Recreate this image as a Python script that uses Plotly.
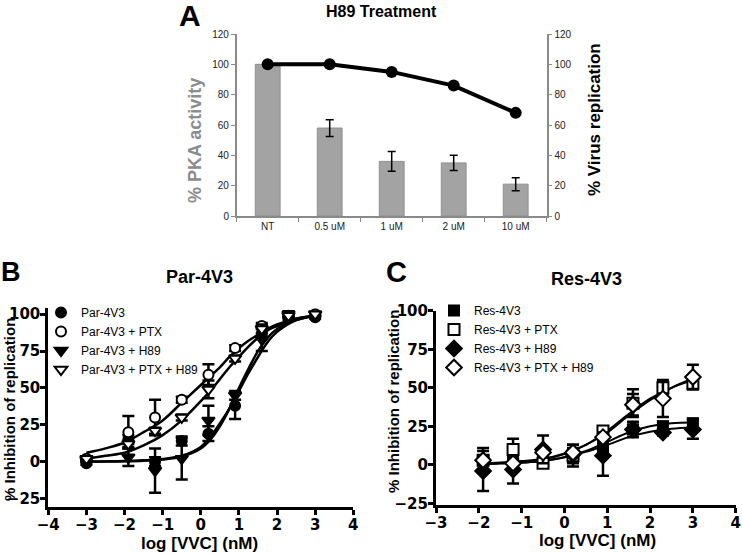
import plotly.graph_objects as go

W, H = 742, 554

# ---------------- Panel A data ----------------
a_categories = ["NT", "0.5 uM", "1 uM", "2 uM", "10 uM"]
a_pka = [100, 58, 36, 35, 21]
a_pka_err = [0, 5.5, 6.5, 5, 4.3]
a_virus = [100, 100, 95, 86, 68]
a_ticks = [0, 20, 40, 60, 80, 100, 120]

# ---------------- Panel B data ----------------
b_x = [-3, -1.9, -1.2, -0.5, 0.2, 0.9, 1.6, 2.3, 3.0]
b_par = [-1, 15, 0, 14, 19, 38, 87, 98, 98]
b_par_err = [1, 3, 3, 3, 5, 9, 3, 2, 1]
b_ptx = [2, 20, 30, 42, 59, 77, 92, 99, 100]
b_ptx_err = [1, 11, 12, 2, 7, 2, 2, 1, 1]
b_h89 = [1, 3, -6, 2, 28, 45, 83, 100, 100]
b_h89_err = [1, 6, 15, 14, 10, 3, 8, 2, 1]
b_ptxh89 = [2, 12, 21, 30, 49, 70, 90, 99, 100]
b_ptxh89_err = [1, 2, 2, 2, 6, 2, 3, 1, 1]
# fitted curves
b_curve_x = [-3, -2.5, -2, -1.5, -1, -0.5, 0, 0.25, 0.5, 0.75, 1, 1.25, 1.5, 1.75, 2, 2.5, 3]
b_fit_par = [0.1, 0.2, 0.4, 0.9, 1.8, 4, 10, 17, 26, 36, 48, 60, 71, 81, 88, 96, 99]
b_fit_h89 = [0, 0.1, 0.3, 0.7, 1.5, 3.5, 9, 15, 24, 36, 50, 63, 75, 84, 90, 96, 99]
b_fit_ptx = [6, 9, 13, 20, 28, 40, 52, 58, 64, 71, 77, 82, 86, 90, 93, 97, 99]
b_fit_ptxh89 = [2, 4, 6, 11, 18, 28, 41, 48, 56, 64, 71, 78, 84, 89, 92, 97, 99]
b_xticks = [-4, -3, -2, -1, 0, 1, 2, 3, 4]
yticks_bc = [-25, 0, 25, 50, 75, 100]

# ---------------- Panel C data ----------------
c_x = [-1.9, -1.2, -0.5, 0.2, 0.9, 1.6, 2.3, 3.0]
c_res = [3, 1, 3, 6, 12, 23, 25, 27]
c_res_err = [2, 3, 3, 3, 4, 5, 3, 3]
c_ptx = [3, 10, 1, 6, 22, 40, 50, 53]
c_ptx_err = [8, 7, 2, 7, 3, 9, 4, 4]
c_h89 = [-4, -3, 10, 7, 6, 23, 21, 23]
c_h89_err = [13, 9, 9, 6, 13, 3, 2, 6]
c_ptxh89 = [3, 1, 8, 8, 18, 39, 43, 57]
c_ptxh89_err = [3, 3, 3, 3, 3, 7, 12, 8]
c_curve_x = [-2, -1.5, -1, -0.5, 0, 0.5, 1, 1.5, 2, 2.5, 3]
c_fit_res = [0.5, 1, 1.5, 2.5, 5, 9, 15, 21, 25, 27, 27.5]
c_fit_h89 = [0.5, 1, 1.5, 2.5, 5, 8.5, 13, 18, 21.5, 23.5, 24.5]
c_fit_ptx = [0.5, 1, 1.8, 3.5, 7, 13, 22, 33, 43, 50, 55]
c_fit_ptxh89 = [1, 1.5, 2.5, 4, 7.5, 13, 21, 32, 42, 50, 56]
c_xticks = [-3, -2, -1, 0, 1, 2, 3, 4]


def fx(p):
    return p / W


def fy(p):
    return 1 - p / H


fig = go.Figure()

# ---- Panel A ----
fig.add_trace(go.Bar(
    x=a_categories, y=a_pka, width=0.4,
    marker=dict(color="#a3a3a3", line=dict(color="#8f8f8f", width=1)),
    error_y=dict(type="data", array=a_pka_err, color="black", thickness=1.5, width=4),
    xaxis="x", yaxis="y", showlegend=False))
fig.add_trace(go.Scatter(
    x=a_categories, y=a_virus, mode="lines+markers",
    line=dict(color="black", width=4),
    marker=dict(color="black", size=12),
    xaxis="x", yaxis="y2", showlegend=False))

# ---- Panel B ----
for fit in [b_fit_ptx, b_fit_ptxh89, b_fit_par, b_fit_h89]:
    fig.add_trace(go.Scatter(x=b_curve_x, y=fit, mode="lines", line=dict(color="black", width=2.5, shape="spline"),
                             xaxis="x2", yaxis="y3", showlegend=False, hoverinfo="skip"))

b_series = [
    ("Par-4V3", b_par, b_par_err, "circle", "black", 10),
    ("Par-4V3 + PTX", b_ptx, b_ptx_err, "circle", "white", 10),
    ("Par-4V3 + H89", b_h89, b_h89_err, "triangle-down", "black", 11),
    ("Par-4V3 + PTX + H89", b_ptxh89, b_ptxh89_err, "triangle-down", "white", 11),
]
for name, ys, errs, sym, col, sz in b_series:
    fig.add_trace(go.Scatter(
        x=b_x, y=ys, mode="markers", name=name,
        marker=dict(symbol=sym, color=col, size=sz, line=dict(color="black", width=2)),
        error_y=dict(type="data", array=errs, color="black", thickness=2.5, width=6),
        xaxis="x2", yaxis="y3", legend="legend"))

# ---- Panel C ----
for fit in [c_fit_ptx, c_fit_ptxh89, c_fit_res, c_fit_h89]:
    fig.add_trace(go.Scatter(x=c_curve_x, y=fit, mode="lines", line=dict(color="black", width=2, shape="spline"),
                             xaxis="x3", yaxis="y4", showlegend=False, hoverinfo="skip"))

c_series = [
    ("Res-4V3", c_res, c_res_err, "square", "black", 10),
    ("Res-4V3 + PTX", c_ptx, c_ptx_err, "square", "white", 11),
    ("Res-4V3 + H89", c_h89, c_h89_err, "diamond", "black", 12),
    ("Res-4V3 + PTX + H89", c_ptxh89, c_ptxh89_err, "diamond", "white", 12),
]
for name, ys, errs, sym, col, sz in c_series:
    fig.add_trace(go.Scatter(
        x=c_x, y=ys, mode="markers", name=name,
        marker=dict(symbol=sym, color=col, size=sz, line=dict(color="black", width=2)),
        error_y=dict(type="data", array=errs, color="black", thickness=2.5, width=6),
        xaxis="x3", yaxis="y4", legend="legend2"))

grey = "#8a8a8a"
tickA = dict(family="Liberation Sans, Arial", size=10, color="#222222")
tickBC = dict(family="DejaVu Sans", size=15, color="black", weight="bold")

axBC = dict(showline=True, linecolor="black", linewidth=3, ticks="outside", ticklen=5, tickwidth=3,
            tickcolor="black", showgrid=False, zeroline=False, tickfont=tickBC, fixedrange=True,
            ticklabelstandoff=-3)

fig.update_layout(
    width=W, height=H, margin=dict(l=0, r=0, t=0, b=0, autoexpand=False),
    paper_bgcolor="white", plot_bgcolor="white",
    xaxis=dict(domain=[fx(236.7), fx(546.7)], type="category", range=[-0.5, 4.5],
               tickson="boundaries", ticks="outside", ticklen=4, tickcolor=grey,
               showline=True, linecolor=grey, linewidth=1.5, showgrid=False,
               tickfont=tickA, anchor="y"),
    yaxis=dict(domain=[fy(216), fy(34)], range=[0, 120], tickvals=a_ticks,
               ticks="outside", ticklen=4, tickcolor=grey, showline=True, linecolor=grey,
               linewidth=1.5, showgrid=False, zeroline=False, tickfont=tickA, anchor="x"),
    yaxis2=dict(overlaying="y", side="right", range=[0, 120], tickvals=a_ticks,
                ticks="outside", ticklen=4, tickcolor=grey, showline=True, linecolor=grey,
                linewidth=1.5, showgrid=False, zeroline=False, tickfont=tickA, anchor="x"),
    xaxis2=dict(domain=[fx(48.3), fx(353.3)], range=[-4, 4], tickvals=b_xticks, anchor="y3", **axBC),
    yaxis3=dict(domain=[fy(507.4), fy(308.3)], range=[-31, 104], tickvals=yticks_bc, anchor="x2", **axBC),
    xaxis3=dict(domain=[fx(436), fx(735.7)], range=[-3, 4], tickvals=c_xticks, anchor="y4", **axBC),
    yaxis4=dict(domain=[fy(505), fy(310.7)], range=[-26, 100], tickvals=yticks_bc, anchor="x3", **axBC),
    legend=dict(x=fx(41), y=fy(298), xanchor="left", yanchor="top", bgcolor="rgba(0,0,0,0)",
                font=dict(family="Liberation Sans, Arial", size=12, color="black"),
                tracegroupgap=0, itemwidth=30),
    legend2=dict(x=fx(434), y=fy(296), xanchor="left", yanchor="top", bgcolor="rgba(0,0,0,0)",
                 font=dict(family="Liberation Sans, Arial", size=12, color="black"),
                 tracegroupgap=0, itemwidth=30),
)

ann = []


def add_text(text, x, y, size, color="black", angle=0, family="Liberation Sans, Arial", weight="bold"):
    ann.append(dict(text=text, x=fx(x), y=fy(y), xref="paper", yref="paper", showarrow=False,
                    xanchor="center", yanchor="middle", textangle=angle,
                    font=dict(family=family, size=size, color=color, weight=weight)))


add_text("A", 190, 15, 30)
add_text("H89 Treatment", 381, 12, 16)
add_text("% PKA activity", 195, 140, 18, color="#8c8c8c", angle=-90)
add_text("% Virus replication", 595, 120, 17, angle=-90)
add_text("B", 11, 272, 27)
add_text("Par-4V3", 200, 277, 18)
add_text("C", 396, 272, 29)
add_text("Res-4V3", 586, 279, 18)
add_text("% Inhibition of replication", 9, 410, 15, angle=-90)
add_text("% Inhibition of replication", 393, 402, 15, angle=-90)
add_text("log [VVC] (nM)", 200, 543, 17)
add_text("log [VVC] (nM)", 597, 540, 17)

fig.update_layout(annotations=ann)
fig.write_html("out.html", config={"displayModeBar": False},
               post_script="document.body.style.margin='0px';document.body.style.overflow='hidden';")
